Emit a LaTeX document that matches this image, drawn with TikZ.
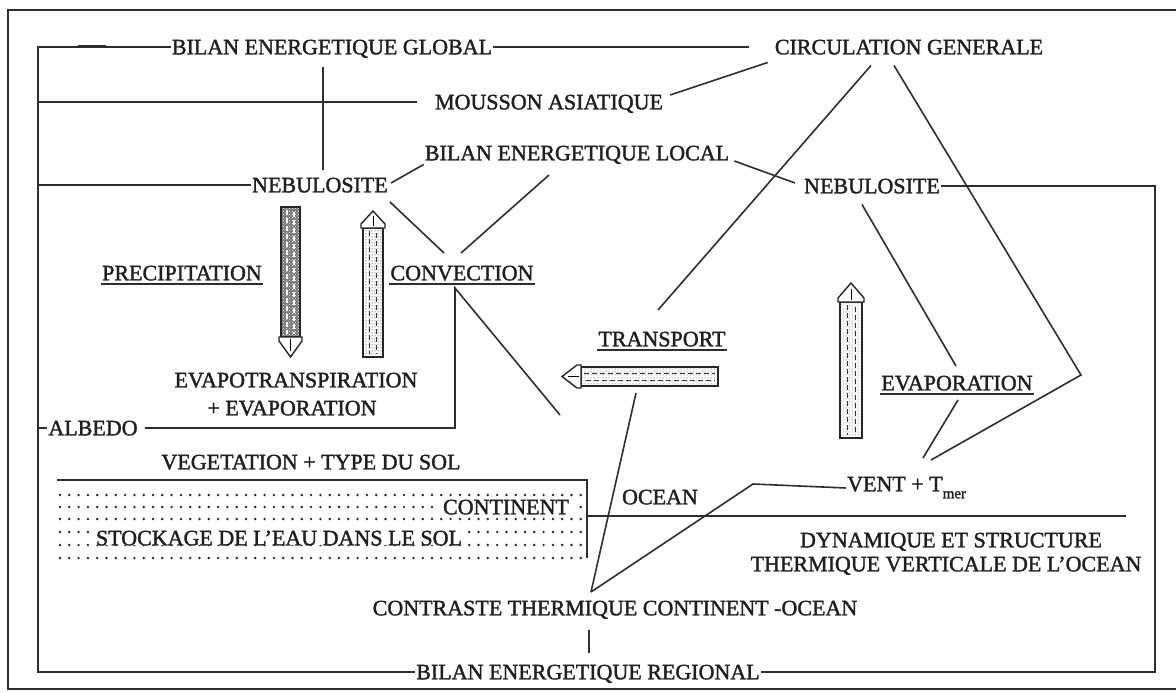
\documentclass[tikz,border=0pt]{standalone}
\usepackage{fontspec}
\setmainfont[FakeBold=1.6]{Liberation Serif}
\usetikzlibrary{patterns}
\begin{document}
\begin{tikzpicture}[x=1pt,y=-1pt,
  lbl/.style={font=\fontsize{22}{24}\selectfont, inner sep=1pt, text=black!88, text height=14.6pt, text depth=0pt},
  con/.style={line width=1.6pt, draw=black!82},
  frm/.style={line width=2pt, draw=black!82},
  ul/.style={line width=1.3pt, draw=black!82},
  shaft/.style={line width=1.4pt, draw=black!85},
  inner/.style={line width=0.9pt, draw=black!80, dash pattern=on 5pt off 3pt}]
\useasboundingbox (0,0) rectangle (1176,693);
\fill[white] (0,0) rectangle (1176,693);
% outer frame
\draw[frm] (1176,10) -- (8,10) -- (8,689) -- (1176,689);

% dotted continent
\foreach \yy in {495,507,519,532,545,558}{
  \foreach \xx in {60,69.3,...,582}{
    \fill[black!85] (\xx,\yy) circle (1.35pt);
  }
}

% text nodes
\node[lbl] (glob) at (332,47) {BILAN ENERGETIQUE GLOBAL};
\node[lbl] (circ) at (909,47) {CIRCULATION GENERALE};
\node[lbl] (mous) at (549,102) {MOUSSON ASIATIQUE};
\node[lbl] (loc) at (577,153) {BILAN ENERGETIQUE LOCAL};
\node[lbl] (nebA) at (320,185) {NEBULOSITE};
\node[lbl] (nebB) at (872,186) {NEBULOSITE};
\node[lbl] (prec) at (182,273) {PRECIPITATION};
\node[lbl] (conv) at (462,273) {CONVECTION};
\node[lbl] (trans) at (662,339) {TRANSPORT};
\node[lbl] (evap) at (957,383) {EVAPORATION};
\node[lbl] (evtr) at (296,380) {EVAPOTRANSPIRATION};
\node[lbl] (evtrb) at (292,408) {+ EVAPORATION};
\node[lbl] (alb) at (93,428) {ALBEDO};
\node[lbl] (veg) at (311,462) {VEGETATION + TYPE DU SOL};
\node[lbl, fill=white, inner xsep=4pt, inner ysep=0pt] (cont) at (506,507) {CONTINENT};
\node[lbl, fill=white, inner xsep=5pt, inner ysep=0pt] (stock) at (279,538) {STOCKAGE DE L'EAU DANS LE SOL};
\node[lbl] (ocean) at (660,497) {OCEAN};
\node[lbl, anchor=west, text height=14.6pt, text depth=8pt] (vent) at (846,488) {VENT + T\raisebox{-7pt}{\fontsize{15}{15}\selectfont mer}};
\node[lbl] (dyn1) at (951,540) {DYNAMIQUE ET STRUCTURE};
\node[lbl] (dyn2) at (946,564) {THERMIQUE VERTICALE DE L'OCEAN};
\node[lbl] (contr) at (615,608) {CONTRASTE THERMIQUE CONTINENT -OCEAN};
\node[lbl] (reg) at (588,672) {BILAN ENERGETIQUE REGIONAL};

% underlines
\foreach \n in {prec,conv,trans,evap}{
  \draw[ul] ([yshift=-2.5pt]\n.south west) -- ([yshift=-2.5pt]\n.south east);
}

% named free ends
\coordinate (tl) at (38,47);
\coordinate (bl) at (38,672);
\coordinate (tr) at (1155,186);
\coordinate (br) at (1155,672);
\coordinate (globR) at (749,47);
\coordinate (mousL) at (38,102);
\coordinate (mousE) at (417,102);
\coordinate (vT) at (323,67);
\coordinate (vB) at (323,170);
\coordinate (nebL) at (38,185);
\coordinate (albL) at (38,428);
\coordinate (corner) at (455,288);
\coordinate (cornerB) at (455,428);
\coordinate (convDiag) at (560,415);
\coordinate (convA) at (444,253);
\coordinate (convB) at (461,253);
\coordinate (nebAo) at (390,202);
\coordinate (locL) at (549,175);
\coordinate (transTop) at (658,310);
\coordinate (transBot) at (636,393);
\coordinate (apex) at (1081,375);
\coordinate (ventTop) at (931,460);
\coordinate (ventTop2) at (923,458);
\coordinate (evapTop) at (956,366);
\coordinate (evapBot) at (958,400);
\coordinate (ventL) at (753,484);
\coordinate (contrTop) at (591,592);
\coordinate (coastL) at (587,516);
\coordinate (coastR) at (1126,516);
\coordinate (boxL) at (57,480);
\coordinate (boxR) at (587,480);
\coordinate (boxB) at (587,558);
\coordinate (tickT) at (589,630);
\coordinate (tickB) at (589,653);

% inner frame
\draw[frm] (glob.west) -- (tl) -- (bl) -- (reg.west);
\draw[frm] (reg.east) -- (br) -- (tr) -- (nebB.east);
\draw[line width=2.8pt, black!82] (78,46.5) -- (106,46.5);
\draw[con] (glob.east) -- (globR);
\draw[con] (mousL) -- (mousE);
\draw[con] (vT) -- (vB);
\draw[con] (nebL) -- (nebA.west);
\draw[con] (albL) -- (alb.west);
\draw[con] (alb.east) ++(6,0) -- (cornerB) -- (corner) -- (convDiag);
\draw[con] ([xshift=2pt,yshift=2pt]nebA.east) -- ([yshift=-3pt]loc.south west);
\draw[con] (nebAo) -- (convA);
\draw[con] (locL) -- (convB);
\draw[con] ([xshift=6pt,yshift=7pt]mous.east) -- ([xshift=-6pt,yshift=-7pt]circ.south west);
\draw[con] ([xshift=4pt,yshift=-8pt]loc.east) -- ([xshift=-8pt,yshift=3pt]nebB.west);
\draw[con] ([xshift=-38pt,yshift=-10pt]circ.south) -- (transTop);
\draw[con] ([xshift=-15pt,yshift=-10pt]circ.south) -- (apex) -- (ventTop);
\draw[con] ([xshift=-10pt,yshift=-10pt]nebB.south) -- (evapTop);
\draw[con] (evapBot) -- (ventTop2);
\draw[con] (transBot) -- (contrTop);
\draw[con] (vent.west) -- (ventL) -- (contrTop);
\draw[con] (coastL) -- (coastR);
\draw[frm] (boxL) -- (boxR) -- (boxB);
\draw[con] (tickT) -- (tickB);

% fat arrows
% precipitation (down)
\fill[black!55] (281,207) rectangle (300,337);
\fill[pattern=crosshatch dots, pattern color=white] (281,207) rectangle (300,337);
\draw[shaft] (281,207) rectangle (300,337);
\draw[inner, draw=white, line width=1.2pt] (287,210) -- (287,334);
\draw[inner, draw=white, line width=1.2pt] (294,212) -- (294,334);
\draw[shaft, fill=white] (279,337) -- (302,337) -- (302,341) -- (290.5,357) -- (279,341) -- cycle;
\draw[line width=0.8pt] (290.5,339) -- (290.5,351);
% convection (up)
\fill[pattern=dots, pattern color=black] (363,228) rectangle (383,357);
\draw[shaft] (363,228) rectangle (383,357);
\draw[inner] (369.5,231) -- (369.5,354);
\draw[inner] (376.5,233) -- (376.5,354);
\draw[shaft, fill=white] (361,228) -- (385,228) -- (385,224) -- (373,211) -- (361,224) -- cycle;
\draw[line width=0.8pt] (373,226) -- (373,216);
% evaporation (up)
\fill[pattern=dots, pattern color=black!70] (840,302) rectangle (862,438);
\draw[shaft] (840,302) rectangle (862,438);
\draw[inner] (847,305) -- (847,435);
\draw[inner] (855,307) -- (855,435);
\draw[shaft, fill=white] (838,302) -- (864,302) -- (864,298) -- (851,283) -- (838,298) -- cycle;
\draw[line width=0.8pt] (851,300) -- (851,289);
% transport (left)
\fill[pattern=dots, pattern color=black!70] (581,367) rectangle (718,386);
\draw[shaft] (581,367) rectangle (718,386);
\draw[inner] (584,373.5) -- (715,373.5);
\draw[inner] (586,380) -- (715,380);
\draw[shaft, fill=white] (581,365) -- (581,388) -- (577,388) -- (562,376.5) -- (577,365) -- cycle;
\draw[line width=0.8pt] (579,376.5) -- (568,376.5);
\end{tikzpicture}
\end{document}
